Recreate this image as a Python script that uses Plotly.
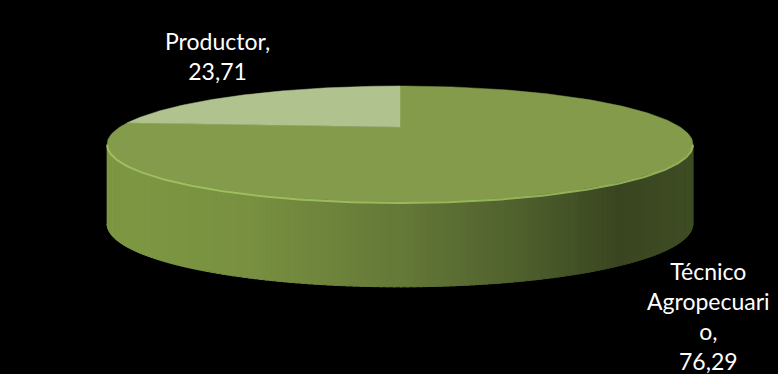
import numpy as np
import plotly.graph_objects as go

# ---- data ----
categories = ["Técnico Agropecuario", "Productor"]
values = [76.29, 23.71]
value_labels = ["76,29", "23,71"]
label_texts = ["Técnico<br>Agropecuari<br>o,<br>76,29", "Productor,<br>23,71"]
top_colors = ["#839b4b", "#b0c28d"]

# side gradient stops (x position in px, rgb)
grad_x = [107, 250, 400, 520, 620, 692]
grad_rgb = [(126, 152, 67), (120, 144, 64), (101, 121, 56), (79, 96, 45), (57, 69, 32), (63, 77, 36)]

W, H = 778, 374
cx, cy = 400, 127
A, B, k = 280, 53, 0.293
H0, k2 = 78, 0.081


def proj(phi):
    r = np.radians(phi)
    u, v = np.cos(r), np.sin(r)
    x = cx + A * u / (1 + k * v)
    y = cy - B * v / (1 + k * v)
    return x, y


def depth(phi):
    v = np.sin(np.radians(phi))
    return H0 / (1 + k2 * v)


fig = go.Figure()

# side (front visible band)
s0 = 180 + np.degrees(np.arcsin(k))
s1 = 360 - np.degrees(np.arcsin(k))
N = 150
edges = np.linspace(s0, s1, N + 1)
for i in range(N):
    ph = np.linspace(edges[i], edges[i + 1] + 0.3, 4)
    xt, yt = proj(ph)
    yb = yt + depth(ph)
    xs = np.concatenate([xt, xt[::-1]])
    ys = np.concatenate([yt, yb[::-1]])
    xm = float(np.mean(xt))
    rgb = [np.interp(xm, grad_x, [c[j] for c in grad_rgb]) for j in range(3)]
    col = "rgb(%d,%d,%d)" % tuple(int(round(c)) for c in rgb)
    fig.add_trace(go.Scatter(x=xs, y=ys, mode="lines", fill="toself", fillcolor=col,
                             line=dict(color=col, width=1), hoverinfo="skip"))

# top slices (clockwise from 12 o'clock)
start = 90.0
cum = 0.0
total = sum(values)
for val, col, name in zip(values, top_colors, categories):
    a_start = start - cum / total * 360
    a_end = a_start - val / total * 360
    ph = np.linspace(a_start, a_end, 200)
    xa, ya = proj(ph)
    xs = np.concatenate([[cx], xa, [cx]])
    ys = np.concatenate([[cy], ya, [cy]])
    fig.add_trace(go.Scatter(x=xs, y=ys, mode="lines", fill="toself", fillcolor=col,
                             line=dict(color=col, width=0.5), name=name, hoverinfo="skip"))
    cum += val

# front rim highlight
ph = np.linspace(s0, s1, 200)
xr, yr = proj(ph)
fig.add_trace(go.Scatter(x=xr, y=yr + 1, mode="lines",
                         line=dict(color="rgba(170,205,105,0.75)", width=2), hoverinfo="skip"))

font = dict(family="Lato, Open Sans, sans-serif", size=23, color="white")
fig.add_annotation(x=217, y=56, text=label_texts[1], showarrow=False, font=font,
                   xref="x", yref="y", align="center", xanchor="center", yanchor="middle")
fig.add_annotation(x=708, y=316, text=label_texts[0], showarrow=False, font=font,
                   xref="x", yref="y", align="center", xanchor="center", yanchor="middle")

fig.update_layout(
    width=W, height=H, margin=dict(l=0, r=0, t=0, b=0),
    paper_bgcolor="black", plot_bgcolor="black", showlegend=False, hovermode=False,
    xaxis=dict(range=[0, W], visible=False, fixedrange=True),
    yaxis=dict(range=[H, 0], visible=False, fixedrange=True),
)
fig.write_html("out.html")
